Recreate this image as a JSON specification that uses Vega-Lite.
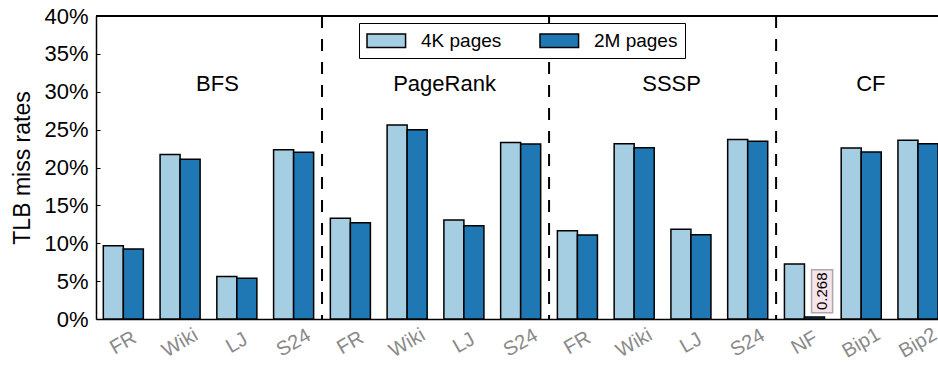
{
  "$schema": "https://vega.github.io/schema/vega-lite/v6.json",
  "autosize": "none",
  "padding": {"left": 96, "top": 16, "right": 0, "bottom": 47},
  "width": 842,
  "height": 303,
  "config": {
    "font": "Liberation Sans",
    "view": {"stroke": null}
  },
  "datasets": {
    "rates": [
      {"app": "BFS", "graph": "FR", "key": "BFS/FR", "pages": "4K pages", "rate": 9.68},
      {"app": "BFS", "graph": "FR", "key": "BFS/FR", "pages": "2M pages", "rate": 9.24},
      {"app": "BFS", "graph": "Wiki", "key": "BFS/Wiki", "pages": "4K pages", "rate": 21.7},
      {"app": "BFS", "graph": "Wiki", "key": "BFS/Wiki", "pages": "2M pages", "rate": 21.1},
      {"app": "BFS", "graph": "LJ", "key": "BFS/LJ", "pages": "4K pages", "rate": 5.6},
      {"app": "BFS", "graph": "LJ", "key": "BFS/LJ", "pages": "2M pages", "rate": 5.37},
      {"app": "BFS", "graph": "S24", "key": "BFS/S24", "pages": "4K pages", "rate": 22.35},
      {"app": "BFS", "graph": "S24", "key": "BFS/S24", "pages": "2M pages", "rate": 22.0},
      {"app": "PageRank", "graph": "FR", "key": "PageRank/FR", "pages": "4K pages", "rate": 13.3},
      {"app": "PageRank", "graph": "FR", "key": "PageRank/FR", "pages": "2M pages", "rate": 12.7},
      {"app": "PageRank", "graph": "Wiki", "key": "PageRank/Wiki", "pages": "4K pages", "rate": 25.6},
      {"app": "PageRank", "graph": "Wiki", "key": "PageRank/Wiki", "pages": "2M pages", "rate": 25.0},
      {"app": "PageRank", "graph": "LJ", "key": "PageRank/LJ", "pages": "4K pages", "rate": 13.07},
      {"app": "PageRank", "graph": "LJ", "key": "PageRank/LJ", "pages": "2M pages", "rate": 12.3},
      {"app": "PageRank", "graph": "S24", "key": "PageRank/S24", "pages": "4K pages", "rate": 23.3},
      {"app": "PageRank", "graph": "S24", "key": "PageRank/S24", "pages": "2M pages", "rate": 23.1},
      {"app": "SSSP", "graph": "FR", "key": "SSSP/FR", "pages": "4K pages", "rate": 11.66},
      {"app": "SSSP", "graph": "FR", "key": "SSSP/FR", "pages": "2M pages", "rate": 11.09},
      {"app": "SSSP", "graph": "Wiki", "key": "SSSP/Wiki", "pages": "4K pages", "rate": 23.15},
      {"app": "SSSP", "graph": "Wiki", "key": "SSSP/Wiki", "pages": "2M pages", "rate": 22.6},
      {"app": "SSSP", "graph": "LJ", "key": "SSSP/LJ", "pages": "4K pages", "rate": 11.84},
      {"app": "SSSP", "graph": "LJ", "key": "SSSP/LJ", "pages": "2M pages", "rate": 11.13},
      {"app": "SSSP", "graph": "S24", "key": "SSSP/S24", "pages": "4K pages", "rate": 23.7},
      {"app": "SSSP", "graph": "S24", "key": "SSSP/S24", "pages": "2M pages", "rate": 23.45},
      {"app": "CF", "graph": "NF", "key": "CF/NF", "pages": "4K pages", "rate": 7.26},
      {"app": "CF", "graph": "NF", "key": "CF/NF", "pages": "2M pages", "rate": 0.268},
      {"app": "CF", "graph": "Bip1", "key": "CF/Bip1", "pages": "4K pages", "rate": 22.57},
      {"app": "CF", "graph": "Bip1", "key": "CF/Bip1", "pages": "2M pages", "rate": 22.05},
      {"app": "CF", "graph": "Bip2", "key": "CF/Bip2", "pages": "4K pages", "rate": 23.6},
      {"app": "CF", "graph": "Bip2", "key": "CF/Bip2", "pages": "2M pages", "rate": 23.15}
    ]
  },
  "data": {"name": "rates"},
  "resolve": {"axis": {"x": "independent", "y": "independent"}},
  "layer": [
    {
      "mark": {"type": "bar", "stroke": "black", "strokeWidth": 1.5},
      "encoding": {
        "x": {
          "field": "key",
          "type": "nominal",
          "sort": null,
          "scale": {"paddingInner": 0.2945, "paddingOuter": 0.0644, "align": 1},
          "axis": {
            "title": null,
            "labels": false,
            "ticks": false,
            "domainColor": "black",
            "domainWidth": 1.5
          }
        },
        "xOffset": {"field": "pages", "type": "nominal", "sort": ["4K pages", "2M pages"], "scale": {"paddingInner": 0, "paddingOuter": 0}},
        "y": {
          "field": "rate",
          "type": "quantitative",
          "scale": {"domain": [0, 40], "nice": false},
          "axis": {
            "title": "TLB miss rates",
            "titleFont": "Liberation Sans",
            "titleFontSize": 23,
            "titleFontWeight": "normal",
            "titleColor": "black",
            "titlePadding": 9,
            "values": [0, 5, 10, 15, 20, 25, 30, 35, 40],
            "labelExpr": "datum.value + '%'",
            "labelFont": "Liberation Sans",
            "labelFontSize": 22,
            "labelColor": "black",
            "labelPadding": 12,
            "labelOverlap": false,
            "labelBound": false,
            "labelFlush": false,
            "tickSize": -4,
            "tickColor": "black",
            "domainColor": "black",
            "domainWidth": 1.5,
            "grid": false
          }
        },
        "color": {
          "field": "pages",
          "type": "nominal",
          "scale": {"domain": ["4K pages", "2M pages"], "range": ["#a6cee3", "#1f78b4"]},
          "legend": {
            "title": null,
            "orient": "none",
            "legendX": 263,
            "legendY": 7,
            "direction": "horizontal",
            "symbolType": "M-1,-0.72H3.06V0.72H-1Z",
            "symbolSize": 361,
            "symbolStrokeColor": "black",
            "symbolStrokeWidth": 1.5,
            "symbolOpacity": 1,
            "labelFont": "Liberation Sans",
            "labelFontSize": 19,
            "labelColor": "black",
            "labelOffset": 34,
            "columnPadding": 35,
            "padding": 7,
            "fillColor": "white",
            "strokeColor": "black"
          }
        }
      }
    },
    {
      "transform": [{"filter": "datum.pages == '4K pages'"}],
      "mark": {"type": "text", "fontSize": 20, "align": "center", "baseline": "middle", "color": "#8a8a8a", "yOffset": 24},
      "encoding": {
        "x": {"field": "key", "type": "nominal", "sort": null, "bandPosition": 0.5, "axis": null},
        "y": {"datum": 0, "axis": null},
        "angle": {"value": -30},
        "text": {"field": "graph"}
      }
    },
    {
      "mark": {"type": "rule", "color": "black", "strokeWidth": 1.5},
      "encoding": {"y": {"datum": 40, "axis": null}}
    },
    {
      "transform": [{"filter": "datum.graph == 'S24' && datum.app != 'CF' && datum.pages == '4K pages'"}],
      "mark": {"type": "rule", "color": "black", "strokeWidth": 2, "strokeDash": [12, 11]},
      "encoding": {"x": {"field": "key", "type": "nominal", "sort": null, "bandPosition": 1.2095, "axis": null}}
    },
    {
      "transform": [{"filter": "datum.graph == 'Wiki' && datum.app != 'CF' && datum.pages == '4K pages'"}],
      "mark": {"type": "text", "fontSize": 22, "baseline": "alphabetic", "align": "center", "color": "black"},
      "encoding": {
        "x": {"field": "key", "type": "nominal", "sort": null, "bandPosition": 1.434, "axis": null},
        "y": {"datum": 30.14, "axis": null},
        "text": {"field": "app"}
      }
    },
    {
      "transform": [{"filter": "datum.key == 'CF/Bip1' && datum.pages == '4K pages'"}],
      "mark": {"type": "text", "fontSize": 22, "baseline": "alphabetic", "align": "center", "color": "black"},
      "encoding": {
        "x": {"field": "key", "type": "nominal", "sort": null, "bandPosition": 0.74, "axis": null},
        "y": {"datum": 30.14, "axis": null},
        "text": {"field": "app"}
      }
    },
    {
      "transform": [{"filter": "datum.key == 'CF/NF' && datum.pages == '2M pages'"}],
      "mark": {"type": "point", "shape": "M-0.49,-1H0.49V1H-0.49Z", "size": 1849, "filled": true, "fill": "#f6e4ea", "stroke": "#aaaaaa", "strokeWidth": 1.5, "opacity": 1},
      "encoding": {
        "x": {"field": "key", "type": "nominal", "sort": null, "bandPosition": 0.94, "axis": null},
        "y": {"datum": 3.66, "axis": null}
      }
    },
    {
      "transform": [{"filter": "datum.key == 'CF/NF' && datum.pages == '2M pages'"}],
      "mark": {"type": "text", "fontSize": 15, "angle": 270, "align": "center", "baseline": "middle", "color": "black"},
      "encoding": {
        "x": {"field": "key", "type": "nominal", "sort": null, "bandPosition": 0.94, "axis": null},
        "y": {"datum": 3.66, "axis": null},
        "text": {"field": "rate", "type": "quantitative", "format": ".3f"}
      }
    }
  ]
}
